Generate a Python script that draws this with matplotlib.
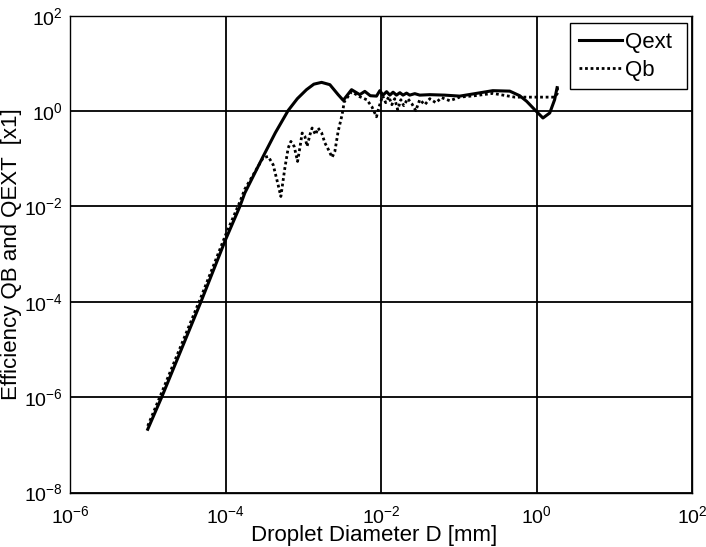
import matplotlib
matplotlib.use("Agg")
import matplotlib.pyplot as plt
from matplotlib.ticker import NullLocator

plt.rcParams['font.family'] = ['Liberation Sans', 'DejaVu Sans']
plt.rcParams['mathtext.fontset'] = 'custom'
plt.rcParams['mathtext.rm'] = 'Liberation Sans'
plt.rcParams['mathtext.it'] = 'Liberation Sans:italic'
plt.rcParams['mathtext.bf'] = 'Liberation Sans:bold'
plt.rcParams['axes.unicode_minus'] = False

# Qext (solid)
D_ext = [1.0e-5, 1.51e-5, 4.83e-5, 1.0e-4, 1.53e-4, 1.77e-4, 3.05e-4, 4.38e-4,
         6.4e-4, 8.39e-4, 1.10e-3, 1.37e-3, 1.72e-3, 2.2e-3, 2.81e-3, 3.27e-3,
         4.18e-3, 5.33e-3, 6.19e-3, 7.28e-3, 8.75e-3, 9.66e-3, 1.06e-2, 1.18e-2,
         1.30e-2, 1.43e-2, 1.58e-2, 1.75e-2, 1.92e-2, 2.13e-2, 2.34e-2, 2.72e-2,
         3.15e-2, 4.24e-2, 6.6e-2, 0.103, 0.161, 0.274, 0.453, 0.608, 0.748,
         0.948, 1.21, 1.48, 1.71, 1.84]
Q_ext = [2.13e-7, 1.0e-6, 1.0e-4, 2.0e-3, 1.0e-2, 1.91e-2, 0.112, 0.352,
         1.03, 1.82, 2.81, 3.67, 4.0, 3.58, 2.21, 1.68,
         2.81, 2.21, 2.59, 2.10, 2.06, 2.68, 2.16, 2.55,
         2.16, 2.49, 2.16, 2.43, 2.16, 2.38, 2.16, 2.32,
         2.16, 2.21, 2.16, 2.06, 2.32, 2.68, 2.62, 2.10, 1.60,
         1.07, 0.716, 0.912, 1.73, 3.10]

# Qb (dotted)
D_b = [1.0e-5, 1.51e-5, 4.83e-5, 1.0e-4, 1.53e-4, 1.77e-4, 3.05e-4, 3.54e-4,
       4.10e-4, 4.75e-4, 5.15e-4, 5.80e-4, 6.40e-4, 6.93e-4, 7.64e-4, 8.45e-4,
       9.04e-4, 9.68e-4, 1.05e-3, 1.12e-3, 1.22e-3, 1.30e-3, 1.44e-3, 1.55e-3,
       1.72e-3, 1.90e-3, 2.11e-3, 2.35e-3, 2.55e-3, 2.81e-3, 3.16e-3, 3.37e-3,
       4.18e-3, 5.33e-3, 6.56e-3, 7.62e-3, 8.75e-3, 9.37e-3, 1.05e-2, 1.15e-2,
       1.26e-2, 1.38e-2, 1.50e-2, 1.64e-2, 1.80e-2, 1.96e-2, 2.21e-2, 2.49e-2,
       2.80e-2, 3.15e-2, 3.66e-2, 4.24e-2, 5.06e-2, 6.04e-2, 7.66e-2, 0.103,
       0.161, 0.274, 0.525, 1.10, 1.71, 1.85, 1.87]
Q_b = [2.5e-7, 1.25e-6, 1.25e-4, 2.5e-3, 1.25e-2, 2.3e-2, 0.105, 0.112,
       0.075, 0.0285, 0.0162, 0.064, 0.168, 0.231, 0.182, 0.088,
       0.168, 0.347, 0.294, 0.182, 0.320, 0.442, 0.320, 0.442,
       0.353, 0.214, 0.155, 0.107, 0.143, 0.375, 0.84, 1.57,
       2.55, 2.0, 1.73, 1.24, 0.76, 1.18, 2.10, 1.50,
       2.0, 1.36, 1.82, 1.07, 1.73, 1.30, 1.82, 1.43,
       1.02, 1.73, 1.36, 1.82, 1.50, 1.91, 1.65, 1.96,
       2.10, 2.35, 1.96, 1.96, 1.96, 2.32, 3.41]

x_ticks = [1e-6, 1e-4, 1e-2, 1e0, 1e2]
y_ticks = [1e-8, 1e-6, 1e-4, 1e-2, 1e0, 1e2]

fig = plt.figure(figsize=(7.06, 5.47), dpi=100)
ax = fig.add_axes([70/706, (547-492.6)/547, (692-70)/706, (492.6-15.7)/547])

ax.plot(D_ext, Q_ext, color='black', lw=2.2, ls='-', label='Qext', zorder=3)
ax.plot(D_b, Q_b, color='black', lw=2.0, ls=(0, (1, 1)), label='Qb', zorder=3)

ax.set_xscale('log')
ax.set_yscale('log')
ax.set_xlim(1e-6, 1e2)
ax.set_ylim(1e-8, 1e2)
ax.set_xticks(x_ticks)
ax.set_yticks(y_ticks)
ax.xaxis.set_minor_locator(NullLocator())
ax.yaxis.set_minor_locator(NullLocator())
ax.grid(True, which='major', color='black', lw=1.3, ls='-')
ax.tick_params(axis='both', which='major', direction='in', length=0,
               labelsize=14)
ax.tick_params(axis='x', pad=9)
ax.tick_params(axis='y', pad=5)
for s in ax.spines.values():
    s.set_linewidth(1.0)
    s.set_color('black')

ax.set_xlabel('Droplet Diameter D [mm]', fontsize=16)
ax.xaxis.set_label_coords(0.4895, -0.068)
ax.set_ylabel('Efficiency QB and QEXT  [x1]', fontsize=16)
ax.yaxis.set_label_coords(-0.077, 0.5)

leg = ax.legend(loc='upper left', fontsize=16, frameon=True, fancybox=False,
                edgecolor='black', framealpha=1, handlelength=1.95,
                handletextpad=0.1, borderpad=0.4, labelspacing=0.3,
                bbox_to_anchor=(0.804, 0.9847, 0.188, 0.0), mode='expand',
                borderaxespad=0)
leg.get_frame().set_linewidth(1.0)

fig.savefig('out.png', dpi=100)
